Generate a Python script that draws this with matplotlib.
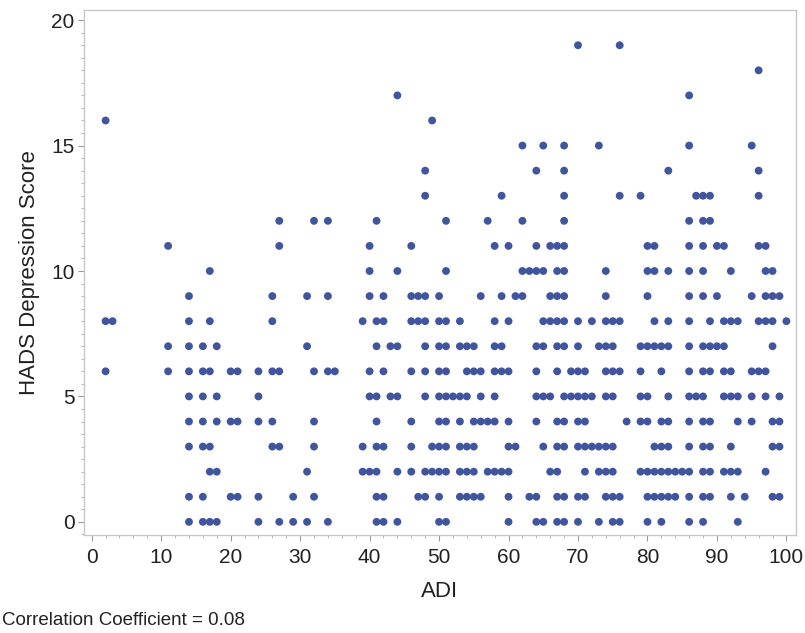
import matplotlib.pyplot as plt
from matplotlib.ticker import MultipleLocator

# ADI values for each HADS depression score
adi_s0 = [14, 16, 17, 18, 24, 27, 29, 31, 34, 41, 42, 44, 50, 51, 60, 64, 65, 67, 68, 70, 73, 75, 76, 80, 82, 86, 88, 93]
adi_s1 = [14, 16, 20, 21, 24, 29, 32, 41, 42, 47, 48, 50, 53, 54, 55, 56, 60, 63, 64, 67, 68, 70, 71, 74, 75, 76,
          80, 81, 82, 83, 84, 86, 88, 89, 92, 94, 98, 99]
adi_s2 = [17, 18, 31, 39, 40, 41, 44, 46, 48, 49, 50, 51, 53, 54, 55, 57, 58, 59, 60, 66, 67, 71, 73, 74, 75, 79,
          80, 81, 82, 83, 84, 85, 86, 88, 89, 91, 92, 93, 97]
adi_s3 = [14, 16, 17, 26, 27, 32, 39, 41, 42, 46, 49, 50, 51, 53, 54, 55, 60, 61, 65, 67, 68, 70, 71, 72, 73, 74,
          75, 81, 82, 83, 86, 88, 89, 92, 98, 99]
adi_s4 = [14, 16, 18, 20, 21, 24, 26, 32, 41, 46, 50, 51, 53, 55, 56, 57, 58, 60, 64, 67, 68, 70, 71, 77, 79, 80,
          82, 83, 86, 88, 89, 93, 95, 98, 99]
adi_s5 = [14, 16, 18, 24, 40, 41, 43, 44, 48, 50, 51, 52, 53, 54, 56, 58, 64, 65, 66, 68, 69, 70, 71, 72, 74, 75,
          79, 80, 83, 86, 87, 88, 91, 92, 93, 95, 97, 99]
adi_s6 = [2, 11, 14, 16, 17, 20, 21, 24, 26, 27, 32, 34, 35, 40, 42, 46, 48, 50, 51, 54, 55, 56, 58, 59, 60, 64,
          67, 69, 70, 71, 74, 75, 76, 79, 82, 86, 88, 89, 91, 92, 95, 96, 97]
adi_s7 = [11, 14, 16, 18, 31, 41, 43, 44, 48, 50, 51, 53, 54, 55, 58, 59, 64, 65, 67, 68, 70, 73, 74, 75, 79, 80,
          81, 82, 83, 86, 88, 89, 90, 91, 98]
adi_s8 = [2, 3, 14, 17, 26, 39, 41, 42, 46, 47, 48, 50, 51, 53, 58, 60, 65, 66, 67, 68, 70, 72, 74, 75, 76, 81,
          83, 86, 89, 91, 92, 93, 96, 97, 98, 100]
adi_s9 = [14, 26, 31, 34, 40, 42, 46, 47, 48, 50, 56, 59, 61, 62, 66, 67, 68, 74, 80, 86, 88, 90, 95, 97, 98, 99]
adi_s10 = [17, 40, 44, 51, 62, 63, 64, 65, 67, 68, 74, 80, 81, 83, 86, 88, 92, 97, 98]
adi_s11 = [11, 27, 40, 46, 58, 60, 64, 66, 67, 68, 80, 81, 86, 88, 90, 91, 96, 97]
adi_s12 = [27, 32, 34, 41, 51, 57, 62, 68, 86, 88, 89]
adi_s13 = [48, 59, 68, 76, 79, 87, 88, 89, 96]
adi_s14 = [48, 64, 68, 83, 96]
adi_s15 = [62, 65, 68, 73, 86, 95]
adi_s16 = [2, 49]
adi_s17 = [44, 86]
adi_s18 = [96]
adi_s19 = [70, 76]

adi_by_score = [adi_s0, adi_s1, adi_s2, adi_s3, adi_s4, adi_s5, adi_s6, adi_s7, adi_s8, adi_s9,
                adi_s10, adi_s11, adi_s12, adi_s13, adi_s14, adi_s15, adi_s16, adi_s17, adi_s18, adi_s19]

adi = []
hads = []
for score, vals in enumerate(adi_by_score):
    for v in vals:
        adi.append(v)
        hads.append(score)

plt.rcParams['font.family'] = ['Liberation Sans', 'DejaVu Sans']

fig = plt.figure(figsize=(8.05, 6.33), dpi=100)
ax = fig.add_axes([0.104, 0.155, 0.885, 0.829])

ax.scatter(adi, hads, s=32, color='#41559f', edgecolors='none', zorder=3)

ax.set_xlim(-1.15, 101.4)
ax.set_ylim(-0.52, 20.4)
ax.xaxis.set_major_locator(MultipleLocator(10))
ax.xaxis.set_minor_locator(MultipleLocator(2))
ax.yaxis.set_major_locator(MultipleLocator(5))
ax.yaxis.set_minor_locator(MultipleLocator(0.5))

for sp in ax.spines.values():
    sp.set_color('#c8c8c8')
    sp.set_linewidth(1.0)

ax.tick_params(axis='both', which='major', length=4.5, color='#999999', labelsize=15,
               labelcolor='#222222', pad=2)
ax.tick_params(axis='x', which='major', pad=5)
ax.tick_params(axis='both', which='minor', length=2.5, color='#aaaaaa')

ax.set_xlabel('ADI', fontsize=16, color='#222222', labelpad=10)
ax.set_ylabel('HADS Depression Score', fontsize=16, color='#222222', labelpad=8)

fig.text(0.003, 0.012, 'Correlation Coefficient = 0.08', fontsize=13.5, color='#222222')

fig.savefig('out.png', dpi=100)
